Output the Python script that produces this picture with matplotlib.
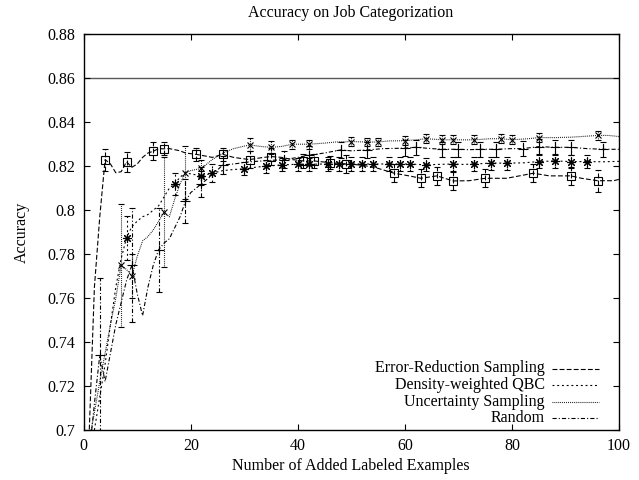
import matplotlib
matplotlib.use("Agg")
import matplotlib.pyplot as plt

plt.rcParams['font.family'] = ['Liberation Serif', 'DejaVu Serif']
plt.rcParams['lines.scale_dashes'] = False

# ---------------- data ----------------
title = "Accuracy on Job Categorization"
xlabel = "Number of Added Labeled Examples"
ylabel = "Accuracy"
series_names = ["Error-Reduction Sampling", "Density-weighted QBC", "Uncertainty Sampling", "Random"]
xticks = [0, 20, 40, 60, 80, 100]
yticks = [0.7, 0.72, 0.74, 0.76, 0.78, 0.8, 0.82, 0.84, 0.86, 0.88]
ytick_labels = ["0.7", "0.72", "0.74", "0.76", "0.78", "0.8", "0.82", "0.84", "0.86", "0.88"]
ref_level = 0.86

# Error-Reduction Sampling (line + square markers)
er_x = [1, 2, 3, 4, 5, 6, 7, 8, 9, 10, 11, 12, 13, 14, 15, 16, 17, 18, 19, 21, 23, 24, 26, 28, 31, 33, 35, 37, 39,
        41, 43, 46, 49, 52, 55, 58, 61, 63, 66, 69, 72, 75, 79, 84, 87, 91, 93, 96, 99, 100]
er_y = [0.697, 0.765, 0.797, 0.823, 0.821, 0.817, 0.8175, 0.822, 0.8195, 0.821, 0.824, 0.826, 0.8268, 0.828, 0.8279,
        0.828, 0.8275, 0.827, 0.826, 0.8254, 0.8245, 0.824, 0.8254, 0.824, 0.823, 0.8238, 0.8244, 0.824, 0.823,
        0.8224, 0.8224, 0.8216, 0.821, 0.8205, 0.819, 0.8168, 0.8155, 0.8145, 0.8156, 0.8133, 0.8134, 0.8145,
        0.8145, 0.8168, 0.8156, 0.8156, 0.8145, 0.8134, 0.8134, 0.814]
er_mx = [4, 8, 13, 15, 21, 26, 31, 35, 41, 43, 46, 49, 58, 63, 66, 69, 75, 84, 91, 96]
er_my = [0.823, 0.822, 0.8268, 0.8279, 0.8254, 0.8254, 0.823, 0.8244, 0.8224, 0.8224, 0.8216, 0.821, 0.8168,
         0.8145, 0.8156, 0.8133, 0.8145, 0.8168, 0.8156, 0.8134]
er_err = [0.005, 0.0045, 0.004, 0.003, 0.003, 0.003, 0.004, 0.004, 0.003, 0.003, 0.003, 0.004, 0.004, 0.004,
          0.004, 0.004, 0.004, 0.004, 0.004, 0.005]

# Density-weighted QBC (line + asterisk markers)
qbc_x = [2, 3, 4, 5, 6, 7, 8, 9, 10, 11, 12, 13, 14, 15, 16, 17, 18, 19, 20, 22, 24, 26, 28, 30, 32, 34, 37, 40,
         42, 45.6, 47.7, 50, 52, 54, 57, 59, 61, 64, 66, 69, 71, 73, 76, 79, 82, 85, 88, 91, 94, 97, 100]
qbc_y = [0.700, 0.715, 0.730, 0.748, 0.765, 0.778, 0.7875, 0.7925, 0.795, 0.797, 0.798, 0.800, 0.802, 0.806,
         0.810, 0.812, 0.815, 0.817, 0.8165, 0.8156, 0.8168, 0.818, 0.8185, 0.8188, 0.8195, 0.820, 0.8206,
         0.8209, 0.8209, 0.821, 0.821, 0.821, 0.821, 0.821, 0.821, 0.821, 0.821, 0.8206, 0.8208, 0.821, 0.8208,
         0.821, 0.8214, 0.8214, 0.8215, 0.8221, 0.8224, 0.8221, 0.8221, 0.822, 0.8222]
qbc_mx = [8, 17, 22, 24, 30, 34, 37, 40, 42, 45.6, 47.7, 50, 52, 54, 57, 59, 61, 64, 69, 73, 76, 79, 85, 88, 91, 94]
qbc_my = [0.7875, 0.812, 0.8156, 0.8168, 0.8188, 0.820, 0.8206, 0.8209, 0.8209, 0.821, 0.821, 0.821, 0.821,
          0.821, 0.821, 0.821, 0.821, 0.8206, 0.821, 0.821, 0.8214, 0.8214, 0.8221, 0.8224, 0.8221, 0.8221]
qbc_err = [0.010, 0.005, 0.004, 0.004, 0.003, 0.003, 0.003, 0.003, 0.003, 0.003, 0.003, 0.003, 0.003, 0.003,
           0.003, 0.003, 0.003, 0.003, 0.003, 0.003, 0.003, 0.003, 0.003, 0.003, 0.003, 0.003]

# Uncertainty Sampling (line + x markers)
unc_x = [1.4, 2, 3, 4, 5, 6, 7, 8, 9, 10, 11, 12, 13, 14, 15, 16, 17, 18, 19, 20, 22, 24, 26, 28, 31, 33, 35, 37,
         39, 42, 45, 47, 50, 53, 55, 57, 60, 62, 64, 67, 69, 71, 73, 76, 78, 80, 83, 85, 88, 91, 93, 96, 98, 100]
unc_y = [0.700, 0.708, 0.722, 0.735, 0.748, 0.760, 0.775, 0.773, 0.770, 0.779, 0.786, 0.788, 0.791, 0.795, 0.799,
         0.797, 0.805, 0.812, 0.817, 0.818, 0.819, 0.823, 0.826, 0.828, 0.8297, 0.829, 0.8286, 0.829, 0.830,
         0.830, 0.8305, 0.831, 0.8312, 0.831, 0.831, 0.8315, 0.8316, 0.832, 0.8325, 0.832, 0.832, 0.832, 0.832,
         0.8325, 0.8325, 0.832, 0.8325, 0.833, 0.833, 0.8332, 0.8335, 0.834, 0.834, 0.8335]
unc_mx = [7, 9, 15, 19, 22, 31, 35, 39, 42, 50, 53, 55, 60, 64, 67, 69, 73, 78, 80, 85, 96]
unc_my = [0.775, 0.770, 0.799, 0.817, 0.819, 0.8297, 0.8286, 0.830, 0.830, 0.8312, 0.831, 0.831, 0.8316,
          0.8325, 0.832, 0.832, 0.832, 0.8325, 0.832, 0.833, 0.834]
unc_err = [0.028, 0.010, 0.025, 0.012, 0.004, 0.003, 0.003, 0.002, 0.002, 0.002, 0.002, 0.002, 0.002, 0.002,
           0.002, 0.002, 0.002, 0.002, 0.002, 0.002, 0.002]

# Random (line + plus markers)
rnd_x = [1.5, 2, 3, 4, 5, 6, 7, 8, 9, 10, 11, 12, 13, 14, 15, 16, 17, 18, 19, 20, 22, 24, 26, 28, 31, 34, 37.5, 40,
         42, 45, 48, 50, 53, 56, 60, 62, 65, 67, 70, 72, 74, 77, 80, 82, 85, 88, 91, 94, 97, 100]
rnd_y = [0.700, 0.712, 0.734, 0.722, 0.735, 0.748, 0.758, 0.768, 0.775, 0.762, 0.752, 0.765, 0.775, 0.782, 0.785,
         0.787, 0.792, 0.797, 0.804, 0.808, 0.812, 0.816, 0.8206, 0.821, 0.822, 0.8225, 0.823, 0.824, 0.825,
         0.826, 0.8274, 0.827, 0.8274, 0.828, 0.8282, 0.8286, 0.828, 0.8277, 0.8277, 0.8275, 0.8277, 0.8277,
         0.828, 0.828, 0.8289, 0.8286, 0.8286, 0.828, 0.8277, 0.8277]
rnd_mx = [3, 9, 14, 19, 22, 26, 37.5, 42, 48, 53, 60, 62, 67, 70, 74, 77, 82, 85, 88, 91, 97]
rnd_my = [0.734, 0.775, 0.782, 0.804, 0.812, 0.8206, 0.823, 0.825, 0.8274, 0.8274, 0.8282, 0.8286, 0.8277,
          0.8277, 0.8277, 0.8277, 0.828, 0.8289, 0.8286, 0.8286, 0.8277]
rnd_err = [0.035, 0.026, 0.019, 0.010, 0.006, 0.004, 0.004, 0.004, 0.0035, 0.0035, 0.0035, 0.0035, 0.0035,
           0.0035, 0.0035, 0.0035, 0.0035, 0.0035, 0.0035, 0.0035, 0.0035]

# ---------------- styles ----------------
styles = [
    dict(ls=(0, (3.5, 1.6)), marker='s', ms=5.5),
    dict(ls=(0, (1.4, 2.0)), marker=(8, 2, 0), ms=6.5),
    dict(ls=(0, (0.6, 0.8)), marker='x', ms=5.0),
    dict(ls=(0, (3.0, 1.5, 0.8, 1.5)), marker='+', ms=7.0),
]
lines_data = [(er_x, er_y, er_mx, er_my, er_err),
              (qbc_x, qbc_y, qbc_mx, qbc_my, qbc_err),
              (unc_x, unc_y, unc_mx, unc_my, unc_err),
              (rnd_x, rnd_y, rnd_mx, rnd_my, rnd_err)]

W, H = 639, 480
fig = plt.figure(figsize=(W / 100, H / 100), dpi=100)
ax_l, ax_r, ax_t, ax_b = 83.7, 619.0, 34.3, 430.0
ax = fig.add_axes([ax_l / W, 1 - ax_b / H, (ax_r - ax_l) / W, (ax_b - ax_t) / H])

ax.axhline(ref_level, color='0.35', lw=1.0, zorder=1)

lw = 0.8
for (lx, ly, mx, my, me), st in zip(lines_data, styles):
    ax.plot(lx, ly, color='k', lw=lw, ls=st['ls'], zorder=3)
    eb = ax.errorbar(mx, my, yerr=me, fmt='none', ecolor='k', elinewidth=lw, capsize=2.2, capthick=lw, zorder=3)
    eb[2][0].set_linestyle(st['ls'])
    ax.plot(mx, my, ls='none', marker=st['marker'], ms=st['ms'], mfc='none', mec='k', mew=0.8, zorder=4)

ax.set_xlim(0, 100)
ax.set_ylim(0.7, 0.88)
ax.set_xticks(xticks)
ax.set_xticklabels([str(t) for t in xticks])
ax.set_yticks(yticks)
ax.set_yticklabels(ytick_labels)
ax.tick_params(direction='in', length=4.5, width=0.8, top=True, right=True, labelsize=11.5, pad=6)
for s in ax.spines.values():
    s.set_linewidth(1.0)

fig.text(351 / W, 1 - 13 / H, title, ha='center', va='center', fontsize=11.5)
fig.text(351 / W, 1 - 466 / H, xlabel, ha='center', va='center', fontsize=11.5)
fig.text(22 / W, 1 - 232 / H, ylabel, ha='center', va='center', rotation=90, fontsize=11.5)

# manual key (gnuplot style: text right-aligned, sample line to the right)
key_rows = [368.5, 385.0, 401.5, 418.0]
def fx(px):
    return (px - ax_l) / (ax_r - ax_l)
def fy(py):
    return (ax_b - py) / (ax_b - ax_t)
for name, st, py in zip(series_names, styles, key_rows):
    ax.text(fx(545), fy(py), name, transform=ax.transAxes, ha='right', va='center', fontsize=11.5)
    ax.plot([fx(552), fx(599)], [fy(py), fy(py)], transform=ax.transAxes, color='k', lw=lw, ls=st['ls'],
            clip_on=False)

fig.savefig("out.png", dpi=100)
